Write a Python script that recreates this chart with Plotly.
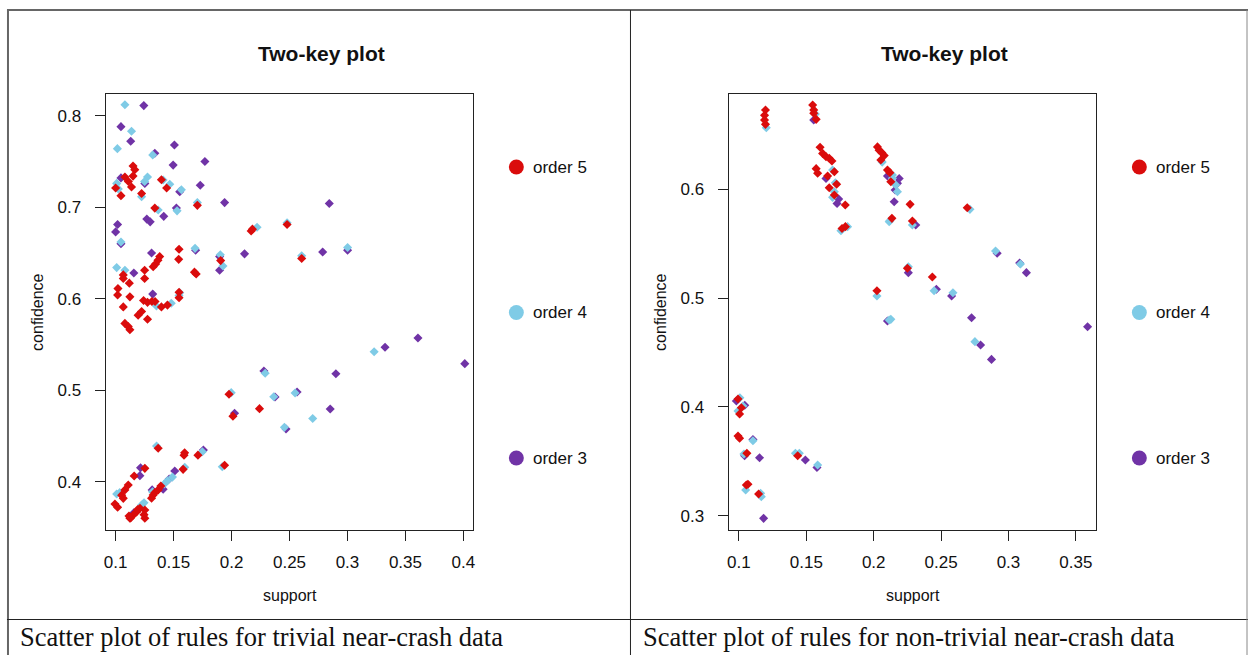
import plotly.graph_objects as go

# ---------------- data ----------------
# Left panel: trivial near-crash data
L3_support = [0.1243, 0.1046, 0.113, 0.1507, 0.1338, 0.177, 0.1496, 0.1046, 0.1252, 0.173, 0.1553, 0.194,
              0.1524, 0.1415, 0.1269, 0.1298, 0.1017, 0.100, 0.1046, 0.2112, 0.169, 0.131, 0.1897, 0.1897,
              0.1157, 0.132, 0.2843, 0.2786, 0.3001, 0.3608, 0.3324, 0.4012, 0.290, 0.2565, 0.2851, 0.247,
              0.2279, 0.2375, 0.2026, 0.1215, 0.1209, 0.151, 0.1157, 0.1315, 0.141, 0.1462, 0.1757]
L3_confidence = [0.811, 0.788, 0.772, 0.768, 0.759, 0.750, 0.746, 0.732, 0.726, 0.724, 0.717, 0.705,
                 0.699, 0.690, 0.687, 0.684, 0.681, 0.673, 0.660, 0.649, 0.653, 0.650, 0.646, 0.631,
                 0.628, 0.605, 0.704, 0.651, 0.653, 0.557, 0.547, 0.529, 0.518, 0.498, 0.4795, 0.4576,
                 0.521, 0.4925, 0.4748, 0.4153, 0.4066, 0.4117, 0.3661, 0.391, 0.3917, 0.403, 0.4347]

L4_support = [0.108, 0.1137, 0.1015, 0.132, 0.1275, 0.125, 0.1467, 0.1009, 0.1023, 0.1224, 0.1567, 0.1705,
              0.1367, 0.153, 0.141, 0.2479, 0.222, 0.1046, 0.1685, 0.1926, 0.1903, 0.1009, 0.108, 0.1352,
              0.148, 0.1553, 0.1547, 0.2605, 0.3001, 0.323, 0.2548, 0.270, 0.2456, 0.229, 0.2364, 0.1997,
              0.1353, 0.1748, 0.1596, 0.192, 0.1009, 0.1224, 0.1318, 0.1419, 0.1447, 0.1035, 0.1245, 0.149]
L4_confidence = [0.812, 0.783, 0.764, 0.757, 0.733, 0.728, 0.725, 0.726, 0.720, 0.7115, 0.719, 0.705,
                 0.697, 0.696, 0.7297, 0.683, 0.678, 0.662, 0.655, 0.6357, 0.648, 0.634, 0.631, 0.592,
                 0.595, 0.6065, 0.6035, 0.647, 0.656, 0.542, 0.497, 0.469, 0.4594, 0.5185, 0.4929, 0.4973,
                 0.439, 0.4328, 0.4157, 0.4164, 0.3866, 0.3745, 0.389, 0.3975, 0.4011, 0.388, 0.377, 0.405]

L5_support = [0.115, 0.1165, 0.108, 0.111, 0.1137, 0.115, 0.1395, 0.144, 0.100, 0.1046, 0.1224, 0.1705,
              0.1338, 0.2479, 0.2169, 0.218, 0.1547, 0.1544, 0.138, 0.1365, 0.1345, 0.1324, 0.125, 0.1906,
              0.1066, 0.1066, 0.125, 0.1118, 0.168, 0.1695, 0.102, 0.1017, 0.1123, 0.1066, 0.1241, 0.1275,
              0.1313, 0.134, 0.1395, 0.1447, 0.1547, 0.1547, 0.1224, 0.1194, 0.1275, 0.108, 0.1109, 0.1123,
              0.2605, 0.1367, 0.159, 0.1595, 0.171, 0.1252, 0.116, 0.1582, 0.194, 0.1109, 0.108, 0.1052,
              0.1066, 0.0994, 0.1017, 0.1252, 0.1252, 0.1245, 0.1123, 0.1152, 0.118, 0.121, 0.131, 0.1324,
              0.1338, 0.1367, 0.139, 0.1978, 0.2241, 0.2012, 0.113, 0.1115, 0.119]
L5_confidence = [0.745, 0.741, 0.733, 0.728, 0.722, 0.734, 0.730, 0.721, 0.721, 0.7126, 0.715, 0.702,
                 0.699, 0.681, 0.674, 0.676, 0.654, 0.643, 0.646, 0.642, 0.638, 0.635, 0.631, 0.6416,
                 0.626, 0.622, 0.622, 0.617, 0.629, 0.627, 0.611, 0.604, 0.602, 0.591, 0.598, 0.596,
                 0.597, 0.597, 0.591, 0.593, 0.607, 0.601, 0.586, 0.582, 0.5775, 0.573, 0.5695, 0.566,
                 0.644, 0.4365, 0.429, 0.4315, 0.429, 0.4146, 0.4062, 0.4135, 0.418, 0.3964, 0.391, 0.3853,
                 0.3818, 0.3756, 0.372, 0.369, 0.360, 0.364, 0.360, 0.3636, 0.367, 0.371, 0.382, 0.3855,
                 0.388, 0.391, 0.3953, 0.4955, 0.4798, 0.4716, 0.3605, 0.3625, 0.3695]

# Right panel: non-trivial near-crash data
R3_support = [0.1555, 0.1646, 0.174, 0.1728, 0.2102, 0.2159, 0.2152, 0.2102, 0.2189, 0.2176, 0.2312, 0.2916,
              0.3083, 0.3133, 0.2257, 0.2465, 0.2578, 0.2726, 0.2793, 0.2874, 0.3587, 0.0981, 0.1043, 0.1042,
              0.1153, 0.1493, 0.1579, 0.1104, 0.1183]
R3_confidence = [0.6637, 0.610, 0.591, 0.587, 0.6122, 0.5994, 0.5886, 0.479, 0.610, 0.6055, 0.5672, 0.5412,
                 0.5323, 0.5234, 0.5234, 0.5081, 0.5019, 0.482, 0.4569, 0.4437, 0.4737, 0.4054, 0.4015, 0.3552,
                 0.3533, 0.3512, 0.3444, 0.370, 0.2976]

R4_support = [0.1203, 0.1567, 0.1695, 0.2139, 0.1715, 0.2164, 0.2176, 0.1708, 0.1695, 0.1806, 0.1757, 0.212,
              0.2024, 0.2127, 0.2063, 0.2139, 0.2115, 0.2714, 0.2287, 0.2904, 0.3089, 0.2257, 0.2448, 0.2588,
              0.2115, 0.2751, 0.1007, 0.103, 0.0993, 0.1104, 0.1037, 0.1419, 0.1448, 0.1584, 0.105, 0.1166,
              0.1161]
R4_confidence = [0.6566, 0.6692, 0.6177, 0.6101, 0.6061, 0.6039, 0.5978, 0.5978, 0.5926, 0.5657, 0.562, 0.5711,
                 0.5019, 0.4805, 0.625, 0.6131, 0.5702, 0.5816, 0.5672, 0.5433, 0.5313, 0.5289, 0.5068, 0.505,
                 0.4799, 0.460, 0.4085, 0.4008, 0.3963, 0.3689, 0.3567, 0.3574, 0.3574, 0.3466, 0.3236, 0.3175,
                 0.3206]

R5_support = [0.1197, 0.119, 0.119, 0.1197, 0.1547, 0.1555, 0.1555, 0.1573, 0.1602, 0.1621, 0.1646, 0.167,
              0.169, 0.1573, 0.1584, 0.1708, 0.1658, 0.1725, 0.167, 0.1708, 0.1789, 0.1765, 0.179, 0.2028,
              0.204, 0.206, 0.2053, 0.2078, 0.2102, 0.212, 0.2127, 0.2135, 0.2024, 0.227, 0.2694, 0.2287,
              0.225, 0.2435, 0.0993, 0.1018, 0.1005, 0.0993, 0.1005, 0.1059, 0.1436, 0.1055, 0.1067, 0.1146]
R5_confidence = [0.6729, 0.668, 0.6637, 0.6597, 0.6775, 0.673, 0.670, 0.6643, 0.6386, 0.633, 0.630, 0.6285,
                 0.626, 0.619, 0.6147, 0.6162, 0.6122, 0.6046, 0.6015, 0.5948, 0.5856, 0.564, 0.5657, 0.639,
                 0.636, 0.6337, 0.627, 0.631, 0.6177, 0.6153, 0.607, 0.5733, 0.5068, 0.5862, 0.5831, 0.5709,
                 0.5274, 0.5194, 0.4073, 0.3993, 0.3935, 0.3733, 0.3712, 0.3574, 0.3552, 0.3282, 0.329, 0.320]

L_xticks = [0.1, 0.15, 0.2, 0.25, 0.3, 0.35, 0.4]
L_xtext = ["0.1", "0.15", "0.2", "0.25", "0.3", "0.35", "0.4"]
L_yticks = [0.4, 0.5, 0.6, 0.7, 0.8]
L_ytext = ["0.4", "0.5", "0.6", "0.7", "0.8"]
R_xticks = [0.1, 0.15, 0.2, 0.25, 0.3, 0.35]
R_xtext = ["0.1", "0.15", "0.2", "0.25", "0.3", "0.35"]
R_yticks = [0.3, 0.4, 0.5, 0.6]
R_ytext = ["0.3", "0.4", "0.5", "0.6"]

orders = ["order 5", "order 4", "order 3"]
captions = ["Scatter plot of rules for trivial near-crash data",
            "Scatter plot of rules for non-trivial near-crash data"]

# ---------------- styling ----------------
W, H = 1250, 655
RED, CYAN, PURPLE = "#DA0C0C", "#7FCBE6", "#7033A6"
SANS = "Liberation Sans, Arial, sans-serif"
SERIF = "Liberation Serif, Times New Roman, serif"


def px(x):
    return x / W


def py(y):
    return 1 - y / H


fig = go.Figure()

panels = [
    dict(xa="x", ya="y", data=[(L3_support, L3_confidence, PURPLE),
                               (L4_support, L4_confidence, CYAN),
                               (L5_support, L5_confidence, RED)]),
    dict(xa="x2", ya="y2", data=[(R3_support, R3_confidence, PURPLE),
                                 (R4_support, R4_confidence, CYAN),
                                 (R5_support, R5_confidence, RED)]),
]
for p in panels:
    for s, c, col in p["data"]:
        fig.add_trace(go.Scatter(x=s, y=c, mode="markers", xaxis=p["xa"], yaxis=p["ya"],
                                 marker=dict(symbol="diamond", size=7, color=col, line=dict(width=0)),
                                 showlegend=False, hoverinfo="x+y"))

axis_common = dict(showgrid=False, zeroline=False, showline=True, mirror=True,
                   linecolor="#222", linewidth=1.3, ticks="outside", ticklen=10,
                   tickcolor="#222", tickwidth=1.2,
                   tickfont=dict(family=SANS, size=17, color="#111"))

ytop, ybot = 94, 530
fig.update_layout(
    width=W, height=H, margin=dict(l=0, r=0, t=0, b=0),
    paper_bgcolor="white", plot_bgcolor="white", showlegend=False,
    xaxis=dict(axis_common, domain=[px(104), px(473)], range=[0.0914, 0.4087],
               tickvals=L_xticks, ticktext=L_xtext, anchor="y", ticklabelstandoff=6),
    yaxis=dict(axis_common, domain=[py(ybot), py(ytop)], range=[0.3472, 0.8237],
               tickvals=L_yticks, ticktext=L_ytext, anchor="x", ticklabelstandoff=10),
    xaxis2=dict(axis_common, domain=[px(729), px(1098)], range=[0.09238, 0.3653],
                tickvals=R_xticks, ticktext=R_xtext, anchor="y2", ticklabelstandoff=6),
    yaxis2=dict(axis_common, domain=[py(ybot), py(ytop)], range=[0.2869, 0.6876],
                tickvals=R_yticks, ticktext=R_ytext, anchor="x2", ticklabelstandoff=10),
)

ann = []
shapes = []
for k, off in enumerate([0, 625]):
    # title
    ann.append(dict(x=px(321 + off), y=py(54), xref="paper", yref="paper", text="<b>Two-key plot</b>",
                    showarrow=False, xanchor="center", yanchor="middle",
                    font=dict(family=SANS, size=21, color="#111")))
    # axis titles
    ann.append(dict(x=px(289 + off), y=py(595), xref="paper", yref="paper", text="support",
                    showarrow=False, xanchor="center", yanchor="middle",
                    font=dict(family=SANS, size=16, color="#111")))
    ann.append(dict(x=px(35 + off), y=py(312), xref="paper", yref="paper", text="confidence",
                    showarrow=False, xanchor="center", yanchor="middle", textangle=-90,
                    font=dict(family=SANS, size=16, color="#111")))
    # legend
    for name, col, ly in zip(orders, [RED, CYAN, PURPLE], [167, 312.5, 458]):
        cx = 516 + off
        shapes.append(dict(type="circle", xref="paper", yref="paper",
                           x0=px(cx - 7.5), x1=px(cx + 7.5), y0=py(ly + 7.5), y1=py(ly - 7.5),
                           fillcolor=col, line=dict(width=0)))
        ann.append(dict(x=px(531 + off), y=py(ly), xref="paper", yref="paper", text=name,
                        showarrow=False, xanchor="left", yanchor="middle",
                        font=dict(family=SANS, size=17, color="#111")))
    # caption
    ann.append(dict(x=px(16 + off), y=py(637), xref="paper", yref="paper", text=captions[k],
                    showarrow=False, xanchor="left", yanchor="middle",
                    font=dict(family=SERIF, size=26.5, color="#111")))

# table borders
def line(x0, y0, x1, y1, color, width):
    shapes.append(dict(type="line", xref="paper", yref="paper", x0=px(x0), y0=py(y0), x1=px(x1), y1=py(y1),
                       line=dict(color=color, width=width)))

line(5, 10, 1250, 10, "#666", 2)
line(6, 10, 6, 655, "#666", 2)
line(630.5, 10, 630.5, 655, "#222", 1)
line(5, 619.5, 1250, 619.5, "#222", 1)
line(1249, 10, 1249, 655, "#888", 1)

fig.update_layout(annotations=ann, shapes=shapes)
fig.write_html("out.html")
